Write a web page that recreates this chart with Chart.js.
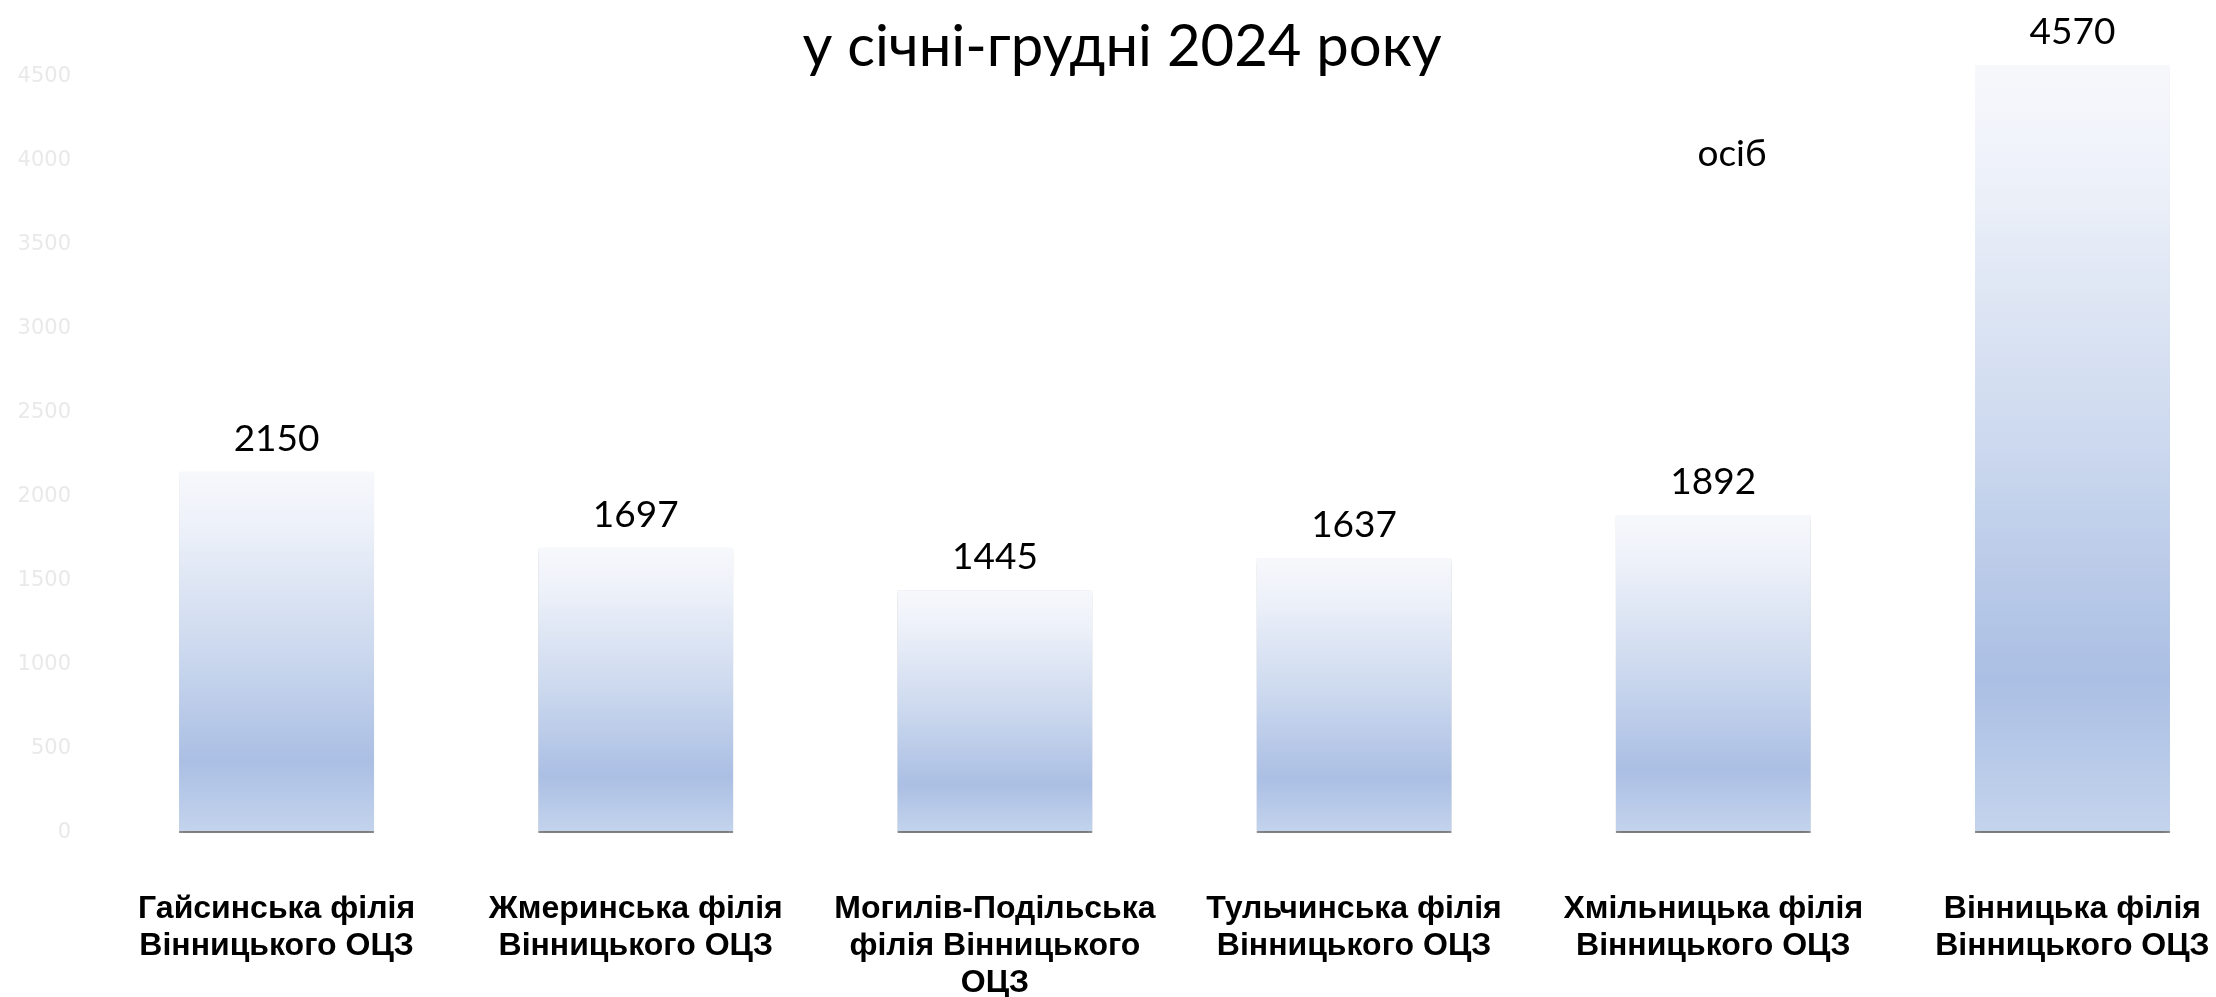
<!DOCTYPE html>
<html lang="uk">
<head>
<meta charset="utf-8">
<title>у січні-грудні 2024 року</title>
<script src="https://cdn.jsdelivr.net/npm/chart.js@4.4.1/dist/chart.umd.min.js"></script>
<style>
  html, body { margin: 0; padding: 0; background: #fff; overflow: hidden; }
  #wrap { width: 2216px; height: 997px; overflow: hidden; }
  canvas { display: block; }
</style>
</head>
<body>
<div id="wrap"><canvas id="chart" width="2300" height="997"></canvas></div>
<script>
// data
const branches = [
  ['Гайсинська філія', 'Вінницького ОЦЗ'],
  ['Жмеринська філія', 'Вінницького ОЦЗ'],
  ['Могилів-Подільська', 'філія Вінницького', 'ОЦЗ'],
  ['Тульчинська філія', 'Вінницького ОЦЗ'],
  ['Хмільницька філія', 'Вінницького ОЦЗ'],
  ['Вінницька філія', 'Вінницького ОЦЗ']
];
const persons = [2150, 1697, 1445, 1637, 1892, 4570];
const yTicks = [0, 500, 1000, 1500, 2000, 2500, 3000, 3500, 4000, 4500];
const titleText = 'у січні-грудні 2024 року';
const unitText = 'осіб';

const barFill = (ctx) => {
  const chart = ctx.chart;
  const y = chart.scales.y;
  if (!y || !chart.chartArea) return '#b9cae9';
  const top = y.getPixelForValue(persons[ctx.dataIndex]);
  const bottom = y.getPixelForValue(0);
  const g = chart.ctx.createLinearGradient(0, top, 0, bottom);
  g.addColorStop(0, '#f7f8fc');
  g.addColorStop(0.15, '#edf1f9');
  g.addColorStop(0.5, '#cbd8ee');
  g.addColorStop(0.8, '#abbfe4');
  g.addColorStop(1, '#c4d4ed');
  return g;
};

// soft shadow under the bars
const barShadow = {
  id: 'barShadow',
  beforeDatasetsDraw(chart) {
    const c = chart.ctx;
    c.save();
    c.shadowColor = 'rgba(0,0,0,0.35)';
    c.shadowBlur = 7;
    c.shadowOffsetY = 2;
  },
  afterDatasetsDraw(chart) {
    chart.ctx.restore();
  }
};

// numbers on top of bars + title and unit
const slideText = {
  id: 'slideText',
  afterDraw(chart) {
    const c = chart.ctx;
    c.save();
    c.fillStyle = '#000';
    c.textAlign = 'center';
    c.textBaseline = 'alphabetic';
    c.font = '37px Lato';
    chart.getDatasetMeta(0).data.forEach((bar, i) => {
      c.fillText(String(persons[i]), bar.x, bar.y - 21);
    });
    c.fillText(unitText, 1732, 166);
    c.font = '58px Lato';
    c.fillText(titleText, 1122, 66);
    c.restore();
  }
};

new Chart(document.getElementById('chart'), {
  type: 'bar',
  data: {
    labels: branches,
    datasets: [{
      data: persons,
      backgroundColor: barFill,
      borderColor: '#9c9c9c',
      borderWidth: { top: 0, left: 0, right: 0, bottom: 2 },
      borderSkipped: false,
      categoryPercentage: 1,
      barPercentage: 0.543
    }]
  },
  options: {
    responsive: false,
    animation: false,
    devicePixelRatio: 1,
    layout: { padding: { top: 60, right: 48, bottom: 0, left: 0 } },
    plugins: {
      legend: { display: false },
      tooltip: { enabled: false }
    },
    scales: {
      x: {
        grid: { display: false, drawTicks: false },
        border: { display: false },
        ticks: {
          color: '#000',
          padding: 58,
          maxRotation: 0,
          autoSkip: false,
          font: { family: 'Liberation Sans', size: 32, weight: 'bold', lineHeight: 1.15 }
        },
        afterFit(scale) { scale.height = 164; }
      },
      y: {
        min: 0,
        max: 4600,
        grid: { display: false, drawTicks: false },
        border: { display: false },
        afterBuildTicks(scale) { scale.ticks = yTicks.map(v => ({ value: v })); },
        ticks: {
          color: '#e9e9e9',
          padding: 26,
          font: { family: 'DejaVu Sans', size: 21 },
          callback: (v) => String(v)
        },
        afterFit(scale) { scale.width = 97; }
      }
    }
  },
  plugins: [barShadow, slideText]
});
</script>
</body>
</html>
